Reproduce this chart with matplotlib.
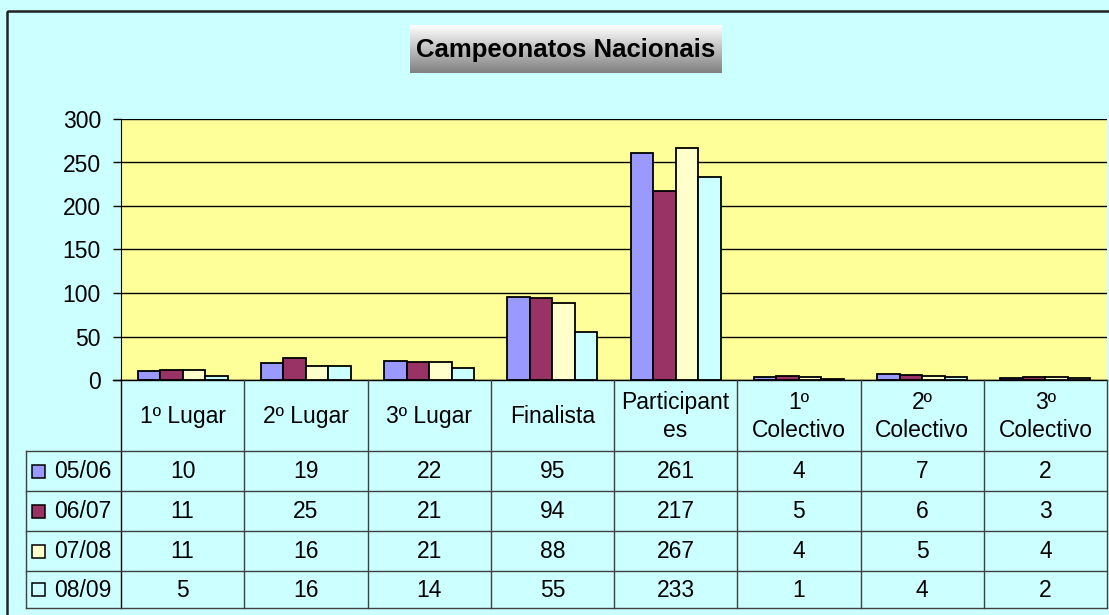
import numpy as np
import matplotlib
matplotlib.use('Agg')
import matplotlib.pyplot as plt
from matplotlib.patches import Rectangle

plt.rcParams['font.family'] = ['Liberation Sans', 'DejaVu Sans']

categories = ['1º Lugar', '2º Lugar', '3º Lugar', 'Finalista', 'Participant\nes',
              '1º\nColectivo', '2º\nColectivo', '3º\nColectivo']
seasons = ['05/06', '06/07', '07/08', '08/09']
v0506 = [10, 19, 22, 95, 261, 4, 7, 2]
v0607 = [11, 25, 21, 94, 217, 5, 6, 3]
v0708 = [11, 16, 21, 88, 267, 4, 5, 4]
v0809 = [5, 16, 14, 55, 233, 1, 4, 2]
series = [v0506, v0607, v0708, v0809]
colors = ['#9999FF', '#993366', '#FFFFCC', '#CCFFFF']

W, H = 1109, 615
BG = '#CCFFFF'
fig = plt.figure(figsize=(W / 100, H / 100), dpi=100, facecolor=BG)

# plot area in pixels
px0, py0, px1, py1 = 121, 119, 1107, 380
ax = fig.add_axes([px0 / W, 1 - py1 / H, (px1 - px0) / W, (py1 - py0) / H])
ax.set_facecolor('#FFFF99')

x = np.arange(len(categories))
bw = 0.1826
for i, vals in enumerate(series):
    ax.bar(x + (i - 1.5) * bw, vals, bw, color=colors[i], edgecolor='black',
           linewidth=1.3, zorder=3)

ax.set_xlim(-0.5, len(categories) - 0.5)
ax.set_ylim(0, 300)
ax.set_yticks(range(0, 301, 50))
ax.set_xticks([])
ax.grid(axis='y', color='black', linewidth=1, zorder=1)
for s in ['top', 'right', 'bottom']:
    ax.spines[s].set_visible(False)
ax.spines['left'].set_color('black')
ax.tick_params(axis='y', length=6, width=1, pad=8.5, labelsize=16.5)

# overlay in pixel coordinates for table, title and border
fa = fig.add_axes([0, 0, 1, 1], facecolor='none')
fa.set_xlim(0, W)
fa.set_ylim(H, 0)
fa.axis('off')

# outer border
fa.add_patch(Rectangle((7, 11), W, H, fill=False, edgecolor='#222222', lw=1.8))

# data table
lc = '#404040'
colw = (px1 - px0) / len(categories)
rows = [451, 491, 531, 571, 608]
leg_x = 26
fa.plot([113, px1], [py1, py1], color='black', lw=1)
for k in range(len(categories) + 1):
    xx = px0 + k * colw
    fa.plot([xx, xx], [py1, rows[-1]], color='black' if k == 0 else lc, lw=1)
fa.plot([leg_x, leg_x], [rows[0], rows[-1]], color=lc, lw=1)
for yy in rows:
    fa.plot([leg_x, px1], [yy, yy], color=lc, lw=1)

for k, cat in enumerate(categories):
    fa.text(px0 + (k + 0.5) * colw, (py1 + rows[0]) / 2 + 1, cat, ha='center',
            va='center', fontsize=16.5, linespacing=1.3)

for i, vals in enumerate(series):
    yc = (rows[i] + rows[i + 1]) / 2
    fa.add_patch(Rectangle((32, yc - 6.5), 13, 13, facecolor=colors[i],
                           edgecolor='black', lw=1.1))
    fa.text(54, yc + 1, seasons[i], ha='left', va='center', fontsize=16.5)
    for k, v in enumerate(vals):
        fa.text(px0 + (k + 0.5) * colw, yc + 1, str(v), ha='center',
                va='center', fontsize=16.5)

# title box with gradient
grad = np.linspace(1.0, 0.5, 64).reshape(-1, 1)
fa.imshow(np.dstack([grad, grad, grad]), extent=(410, 722, 73, 25),
          aspect='auto', zorder=2)
fa.set_xlim(0, W)
fa.set_ylim(H, 0)
fa.text(566, 50, 'Campeonatos Nacionais', ha='center', va='center',
        fontsize=18.5, fontweight='bold', zorder=3)

fig.savefig('out.png', dpi=100, facecolor=BG)
